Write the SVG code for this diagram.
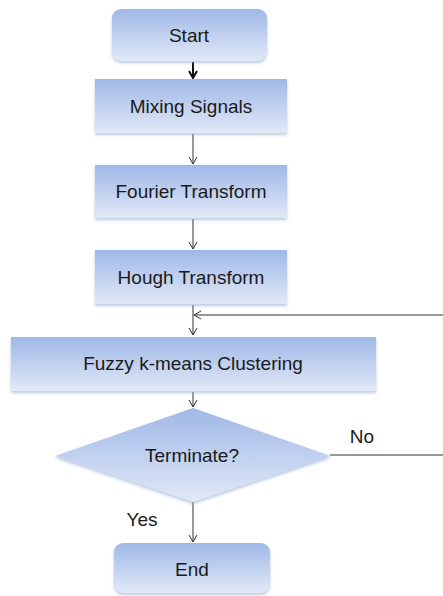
<svg xmlns="http://www.w3.org/2000/svg" width="443" height="596" viewBox="0 0 443 596">
<style>
.box{fill:url(#g);filter:url(#sh)}
.t{font-family:"Liberation Sans",Arial,sans-serif;font-size:19px;fill:#1a1a1a;text-anchor:middle}
.c{stroke:#333;stroke-width:1;fill:none}
</style>
<defs>
<linearGradient id="g" x1="0" y1="0" x2="0" y2="1">
<stop offset="0" stop-color="#9fb8e7"/>
<stop offset="0.5" stop-color="#c0d0ef"/>
<stop offset="1" stop-color="#e2e9f7"/>
</linearGradient>
<filter id="sh" x="-10%" y="-10%" width="120%" height="130%">
<feGaussianBlur in="SourceAlpha" stdDeviation="1.5"/>
<feOffset dy="2" result="b"/>
<feFlood flood-color="#8fa6cf" flood-opacity="0.6"/>
<feComposite in2="b" operator="in"/>
<feMerge><feMergeNode/><feMergeNode in="SourceGraphic"/></feMerge>
</filter>
<marker id="a" markerWidth="10" markerHeight="10" refX="8" refY="5" orient="auto" markerUnits="userSpaceOnUse">
<path d="M1,1 L8,5 L1,9" fill="none" stroke="#333" stroke-width="1"/>
</marker>
<marker id="ab" markerWidth="10" markerHeight="10" refX="8" refY="5" orient="auto" markerUnits="userSpaceOnUse">
<path d="M1,1 L8,5 L1,9" fill="none" stroke="#111" stroke-width="2"/>
</marker>
</defs>
<g id="connectors">
<line x1="193" y1="62" x2="193" y2="78" stroke="#111" stroke-width="2" marker-end="url(#ab)"/>
<line class="c" x1="193" y1="134" x2="193" y2="164" marker-end="url(#a)"/>
<line class="c" x1="193" y1="219" x2="193" y2="249" marker-end="url(#a)"/>
<line class="c" x1="193" y1="305" x2="193" y2="335" marker-end="url(#a)"/>
<line class="c" x1="443" y1="315" x2="194" y2="315" marker-end="url(#a)"/>
<line class="c" x1="193" y1="392" x2="193" y2="407" marker-end="url(#a)"/>
<line class="c" x1="330" y1="455" x2="443" y2="455"/>
<line class="c" x1="193" y1="502" x2="193" y2="542" marker-end="url(#a)"/>
<text class="t" x="362" y="443">No</text>
<text class="t" x="142" y="526">Yes</text>
</g>
<g id="start"><rect class="box" x="112" y="9" width="155" height="52" rx="9"/><text class="t" x="189" y="42">Start</text></g>
<g id="mixing"><rect class="box" x="95" y="79" width="192" height="54"/><text class="t" x="191" y="113">Mixing Signals</text></g>
<g id="fourier"><rect class="box" x="95" y="165" width="192" height="53"/><text class="t" x="191" y="198">Fourier Transform</text></g>
<g id="hough"><rect class="box" x="95" y="250" width="192" height="54"/><text class="t" x="191" y="284">Hough Transform</text></g>
<g id="fuzzy"><rect class="box" x="11" y="337" width="365" height="54"/><text class="t" x="193" y="370">Fuzzy k-means Clustering</text></g>
<g id="terminate"><polygon class="box" points="193,408 331,456 193,502 55,456"/><text class="t" x="192" y="462">Terminate?</text></g>
<g id="end"><rect class="box" x="114" y="543" width="156" height="50" rx="9"/><text class="t" x="192" y="576">End</text></g>
</svg>
